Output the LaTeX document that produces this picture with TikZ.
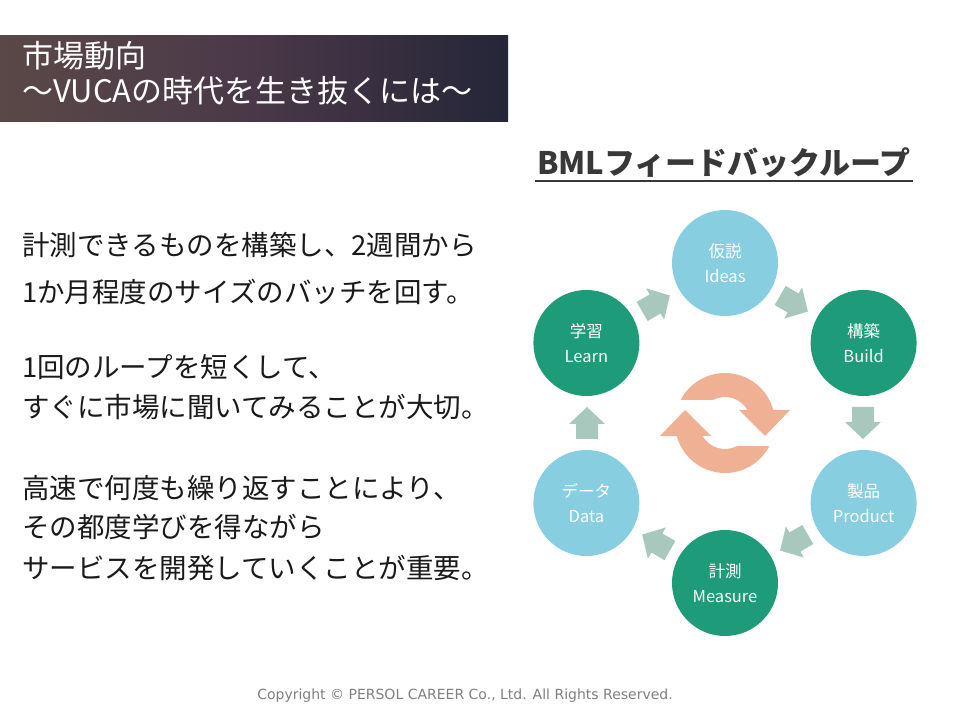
\documentclass[tikz,border=0pt]{standalone}
\usepackage{fontspec}
\setmainfont{Noto Sans CJK JP}
\newfontfamily\copyfont{DejaVu Sans}
\definecolor{ideablue}{HTML}{87CEE0}
\definecolor{buildgreen}{HTML}{1E9B78}
\definecolor{flowgray}{HTML}{A8C8BE}
\definecolor{loopsalmon}{HTML}{F0B094}
\definecolor{titleleft}{HTML}{5A4848}
\definecolor{titlemid}{HTML}{4A3848}
\definecolor{titleright}{HTML}{242638}
\definecolor{bodyink}{HTML}{1A1A1A}
\definecolor{headink}{HTML}{383838}
\definecolor{copyink}{HTML}{808080}
\tikzset{
  stage/.style={circle, minimum size=106pt, inner sep=0pt, text=white, align=center, font=\fontsize{16.5}{25}\selectfont},
  light/.style={stage, fill=ideablue},
  dark/.style={stage, fill=buildgreen},
  bodyline/.style={anchor=west, inner sep=0pt, text=bodyink, font=\fontsize{27.5}{32}\selectfont},
  fbarrow/.pic={\fill[flowgray] (-16,-11) -- (-1,-11) -- (-1,-18) -- (16,0) -- (-1,18) -- (-1,11) -- (-16,11) -- cycle;},
  halfloop/.pic={\fill[loopsalmon] (152.6:50) arc[start angle=152.6, end angle=15.1, radius=50] -- (65,13) -- (40,-13) -- (14,13) -- (30:26) arc[start angle=30, end angle=117.8, radius=26] -- cycle;}
}
\begin{document}
\begin{tikzpicture}[x=1pt, y=1pt]
  \useasboundingbox (0,0) rectangle (960,720);
  \fill[white] (0,0) rectangle (960,720);
  % title bar
  \shade[left color=titleleft, right color=titleright, middle color=titlemid] (0,598) rectangle (508,684);
  \node[anchor=west, inner sep=0pt, text=white, align=left, font=\fontsize{31}{35}\selectfont] (title) at (22,647) {市場動向\\～VUCAの時代を生き抜くには～};
  % body text
  \node[bodyline] (p1a) at (22,475) {計測できるものを構築し、2週間から};
  \node[bodyline] (p1b) at (22,428) {1か月程度のサイズのバッチを回す。};
  \node[bodyline] (p2a) at (22,353) {1回のループを短くして、};
  \node[bodyline] (p2b) at (22,313) {すぐに市場に聞いてみることが大切。};
  \node[bodyline] (p3a) at (22,232) {高速で何度も繰り返すことにより、};
  \node[bodyline] (p3b) at (22,193) {その都度学びを得ながら};
  \node[bodyline] (p3c) at (22,152) {サービスを開発していくことが重要。};
  % heading
  \node[inner sep=0pt, text=headink, font=\fontsize{31}{31}\selectfont\bfseries] (heading) at (724,557) {BMLフィードバックループ};
  \draw[headink, line width=2pt] (535,539) -- (913,539);
  % loop
  \coordinate (hub) at (725,297);
  \node[light] (ideas) at (725,457) {仮説\\Ideas};
  \node[dark] (build) at (863.6,377) {構築\\Build};
  \node[light] (product) at (863.6,217) {製品\\Product};
  \node[dark] (measure) at (725,137) {計測\\Measure};
  \node[light] (data) at (586.4,217) {データ\\Data};
  \node[dark] (learn) at (586.4,377) {学習\\Learn};
  \foreach \a/\d in {0/-90, 60/-30, 120/30, 180/90, 240/150, 300/210}
    \pic[rotate=\d] at ([shift={(\a:138)}]hub) {fbarrow};
  \pic at (hub) {halfloop};
  \pic[rotate=180] at (hub) {halfloop};
  % footer
  \node[text=copyink, font=\copyfont\fontsize{14}{14}\selectfont] (copy) at (465,24) {Copyright © PERSOL CAREER Co., Ltd. All Rights Reserved.};
\end{tikzpicture}
\end{document}
